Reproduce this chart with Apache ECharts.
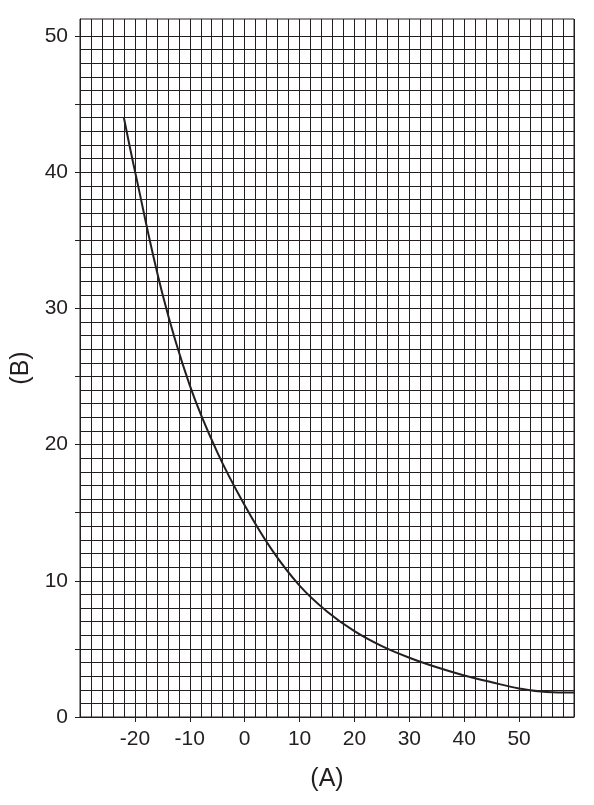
<!DOCTYPE html>
<html>
<head>
<meta charset="utf-8">
<script src="https://cdn.jsdelivr.net/npm/echarts@6/dist/echarts.min.js"></script>
<style>html,body{margin:0;padding:0;background:#fff}#c{width:594px;height:805px}</style>
</head>
<body>
<div id="c"></div>
<script>
var xValues = [-22,-20,-15,-10,-5,0,5,10,15,20,25,30,35,40,45,50,55,60];
var yValues = [44.0,40.1,31.1,24.35,19.45,15.55,12.25,9.65,7.75,6.3,5.2,4.35,3.65,3.05,2.55,2.1,1.84,1.8];
var xTickLabels = [-20,-10,0,10,20,30,40,50];
var yTickLabels = [0,10,20,30,40,50];
var yTickMarks = [0,5,10,15,20,25,30,35,40,45,50];
var xName = '(A)';
var yName = '(B)';

var data = xValues.map(function(x,i){return [x,yValues[i]];});
var ink = '#231f20';
var font = 'Liberation Sans, Arial, sans-serif';
var hidden = {axisLine:{show:false},axisTick:{show:false},axisLabel:{show:false}};
function ext(a,b){var o={};for(var k in a)o[k]=a[k];for(var k2 in b)o[k2]=b[k2];return o;}
var chart = echarts.init(document.getElementById('c'));
chart.setOption({
  animation:false,
  backgroundColor:'#fff',
  grid:[
    {left:80,right:20,top:19,bottom:88,show:true,borderColor:ink,borderWidth:1,backgroundColor:'transparent'},
    {left:80,right:20,top:19,bottom:88},
    {left:80,right:20,top:36,bottom:88}
  ],
  xAxis:[
    {gridIndex:0,type:'value',min:-30,max:60,interval:10,
     axisLine:{show:true,onZero:false,lineStyle:{color:ink,width:1}},
     axisTick:{show:true,customValues:xTickLabels,length:5,lineStyle:{color:ink}},
     axisLabel:{show:true,customValues:xTickLabels,margin:12,color:ink,fontSize:21,fontFamily:font},
     splitLine:{show:false},
     name:xName,nameLocation:'middle',nameGap:50,
     nameTextStyle:{color:ink,fontSize:25,fontFamily:font}},
    ext(hidden,{gridIndex:1,type:'value',min:-30,max:60,interval:2,
     splitLine:{show:true,lineStyle:{color:ink,width:1}}}),
    ext(hidden,{gridIndex:2,type:'value',min:-30,max:60,interval:10,splitLine:{show:false}})
  ],
  yAxis:[
    {gridIndex:0,type:'value',min:0,max:51.25,interval:5,
     axisLine:{show:true,onZero:false,lineStyle:{color:ink,width:1}},
     axisTick:{show:true,customValues:yTickMarks,length:5,lineStyle:{color:ink}},
     axisLabel:{show:true,customValues:yTickLabels,margin:12,color:ink,fontSize:21,fontFamily:font},
     splitLine:{show:false},
     name:yName,nameLocation:'middle',nameGap:46,nameRotate:90,
     nameTextStyle:{color:ink,fontSize:25,fontFamily:font}},
    ext(hidden,{gridIndex:1,type:'value',min:0,max:50,interval:10,splitLine:{show:false}}),
    ext(hidden,{gridIndex:2,type:'value',min:0,max:50,interval:1,
     splitLine:{show:true,lineStyle:{color:ink,width:1}}})
  ],
  series:[{
    type:'line',xAxisIndex:0,yAxisIndex:0,data:data,smooth:0.4,showSymbol:false,symbol:'none',
    lineStyle:{color:ink,width:2},z:5
  }]
});
</script>
</body>
</html>
